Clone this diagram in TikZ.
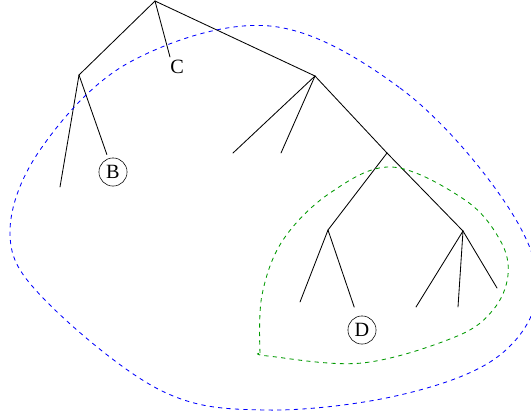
\documentclass[tikz,border=0pt]{standalone}
\usepackage{fontspec}
\setmainfont{Liberation Serif}
\usetikzlibrary{positioning}

\begin{document}
\begin{tikzpicture}[x=0.025cm, y=-0.025cm,
    branch/.style={semithick, line cap=round},
    mark node/.style={draw, circle, inner sep=0pt, minimum size=20pt, font=\Large},
    plain mark/.style={inner sep=0pt, font=\Large}]
  \useasboundingbox (0,0) rectangle (531,417);

  % Tree vertices
  \coordinate (R) at (155,1);
  \coordinate (A) at (79,75);
  \coordinate (E) at (315,76);
  \coordinate (F) at (387,153);
  \coordinate (G) at (328,230);
  \coordinate (H) at (463,231);

  % Leaf ends
  \coordinate (c end) at (170,57);
  \coordinate (a1) at (60,187);
  \coordinate (e1) at (233,153);
  \coordinate (e2) at (281,153);
  \coordinate (g1) at (300,302);
  \coordinate (h1) at (416,307);
  \coordinate (h2) at (458,307);
  \coordinate (h3) at (497,288);

  % Labelled leaves
  \node[plain mark] (C) at (177,67) {C};
  \node[mark node] (B) at (113,172) {B};
  \node[mark node] (D) at (362,330) {D};

  % Branches
  \draw[branch] (R) -- (A);
  \draw[branch] (R) -- (c end);
  \draw[branch] (R) -- (E);
  \draw[branch] (A) -- (a1);
  \draw[branch, shorten >=3pt] (A) -- (B);
  \draw[branch] (E) -- (e1);
  \draw[branch] (E) -- (e2);
  \draw[branch] (E) -- (F);
  \draw[branch] (F) -- (G);
  \draw[branch] (F) -- (H);
  \draw[branch] (G) -- (g1);
  \draw[branch, shorten >=7pt] (G) -- (D);
  \draw[branch] (H) -- (h1);
  \draw[branch] (H) -- (h2);
  \draw[branch] (H) -- (h3);

  % Outer region
  \draw[blue, dashed, semithick] plot[smooth cycle, tension=0.6] coordinates
    {(270,26) (400,88) (500,195) (538,285) (500,355) (400,395) (265,410)
     (160,390) (45,300) (10,235) (40,150) (130,62)};

  % Inner region
  \draw[green!60!black, dashed, semithick] plot[smooth, tension=0.6] coordinates
    {(260,353) (262,295) (283,240) (330,193) (392,167) (465,200) (500,240)
     (508,275) (493,310) (455,337) (362,363) (268,356) (260,353)};
\end{tikzpicture}
\end{document}
